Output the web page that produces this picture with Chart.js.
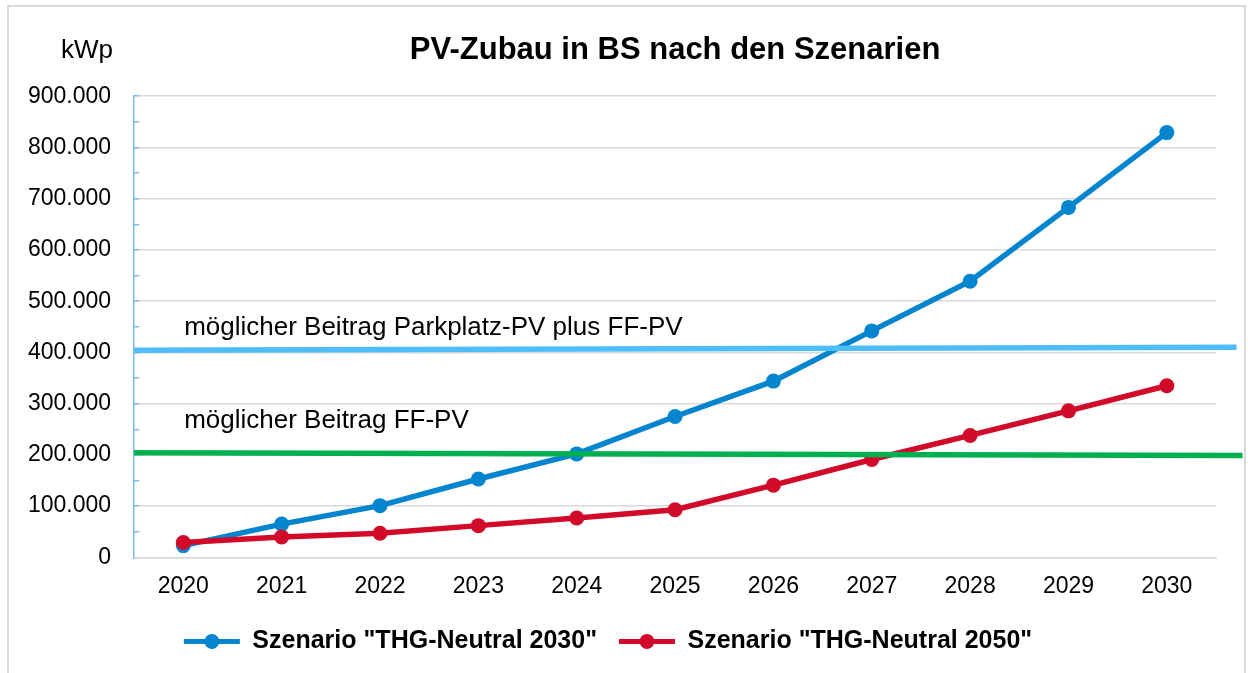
<!DOCTYPE html>
<html>
<head>
<meta charset="utf-8">
<script src="https://cdn.jsdelivr.net/npm/chart.js@4.4.0/dist/chart.umd.min.js"></script>
<style>
  html, body { margin: 0; padding: 0; background: #fff; }
  #wrap { position: relative; width: 1248px; height: 673px; overflow: hidden; }
  #frame { position: absolute; left: 7px; top: 5px; width: 1239px; height: 720px; border: 2px solid #d9d9d9; box-sizing: border-box; pointer-events: none; }
</style>
</head>
<body>
<div id="wrap">
  <canvas id="pvChart" width="1248" height="673"></canvas>
  <div id="frame"></div>
</div>
<script>
// Jahre (x-Achse)
const years = [2020, 2021, 2022, 2023, 2024, 2025, 2026, 2027, 2028, 2029, 2030];

// PV-Zubau in kWp je Szenario
const szenario2030 = [23000, 65000, 101000, 153000, 202000, 275000, 344000, 442000, 539000, 683000, 829000];
const szenario2050 = [29000, 40000, 47000, 62000, 77000, 93000, 141000, 191000, 238000, 286000, 335000];

// mögliche Beiträge (Start- und Endwert der waagrechten Linien)
const parkplatzPvX = [2019.5, 2030.71];
const parkplatzPvY = [404000, 410000];
const ffPvX = [2019.5, 2030.77];
const ffPvY = [204000, 199000];

// y-Achse
const yTicksMajor = [0, 100000, 200000, 300000, 400000, 500000, 600000, 700000, 800000, 900000];

const FONT = '"Liberation Sans", Arial, sans-serif';
Chart.defaults.font.family = FONT;
Chart.defaults.color = '#000';

function fmt(v) {
    return String(v).replace(/\B(?=(\d{3})+(?!\d))/g, '.');
}

const blue = '#0585CF';
const red = '#D20A2A';

// Texte und Legendenpunkte
const extraText = {
    id: 'extraText',
    afterDraw(chart) {
        const { ctx, chartArea } = chart;
        ctx.save();
        ctx.fillStyle = '#000';
        ctx.textBaseline = 'alphabetic';
        ctx.textAlign = 'right';
        ctx.font = '26px ' + FONT;
        ctx.fillText('kWp', 113, 58);

        ctx.textAlign = 'left';
        ctx.font = '26px ' + FONT;
        ctx.fillText('möglicher Beitrag Parkplatz-PV plus FF-PV', chartArea.left + 50, 335);
        ctx.fillText('möglicher Beitrag FF-PV', chartArea.left + 50, 428);

        const legend = chart.legend;
        const boxW = legend.options.labels.boxWidth;
        legend.legendItems.forEach((item, i) => {
            const box = legend.legendHitBoxes[i];
            ctx.fillStyle = chart.data.datasets[item.datasetIndex].borderColor;
            ctx.beginPath();
            ctx.arc(box.left + boxW / 2, box.top + box.height / 2, 7.5, 0, Math.PI * 2);
            ctx.fill();
        });
        ctx.restore();
    }
};

const ctx = document.getElementById('pvChart').getContext('2d');

new Chart(ctx, {
    type: 'line',
    data: {
        datasets: [
            {
                label: 'Szenario "THG-Neutral 2030"',
                data: years.map((y, i) => ({ x: y, y: szenario2030[i] })),
                borderColor: blue,
                backgroundColor: blue,
                pointBackgroundColor: blue,
                borderWidth: 5.5,
                pointRadius: 7.5,
                pointBorderWidth: 0,
                order: 4
            },
            {
                label: 'Szenario "THG-Neutral 2050"',
                data: years.map((y, i) => ({ x: y, y: szenario2050[i] })),
                borderColor: red,
                backgroundColor: red,
                pointBackgroundColor: red,
                borderWidth: 5.5,
                pointRadius: 7.5,
                pointBorderWidth: 0,
                order: 3
            },
            {
                label: 'möglicher Beitrag Parkplatz-PV plus FF-PV',
                data: parkplatzPvX.map((x, i) => ({ x: x, y: parkplatzPvY[i] })),
                borderColor: '#4FBEF8',
                borderWidth: 5.5,
                pointRadius: 0,
                clip: false,
                order: 1
            },
            {
                label: 'möglicher Beitrag FF-PV',
                data: ffPvX.map((x, i) => ({ x: x, y: ffPvY[i] })),
                borderColor: '#00B050',
                borderWidth: 5.5,
                pointRadius: 0,
                clip: false,
                order: 2
            }
        ]
    },
    options: {
        responsive: false,
        animation: false,
        layout: { padding: { left: 0, right: 32, top: 32, bottom: 9 } },
        plugins: {
            tooltip: { enabled: false },
            title: {
                display: true,
                text: 'PV-Zubau in BS nach den Szenarien',
                fullSize: false,
                color: '#000',
                font: { size: 31, weight: 'bold' },
                padding: { top: 0, bottom: 27 }
            },
            legend: {
                position: 'bottom',
                labels: {
                    boxWidth: 56,
                    boxHeight: 5,
                    padding: 22,
                    color: '#000',
                    font: { size: 25, weight: 'bold' },
                    generateLabels: chart => Chart.defaults.plugins.legend.labels.generateLabels(chart)
                        .map(item => Object.assign(item, { lineWidth: 0 })),
                    filter: item => item.datasetIndex < 2,
                    sort: (a, b) => a.datasetIndex - b.datasetIndex
                }
            }
        },
        scales: {
            x: {
                type: 'linear',
                min: 2019.5,
                max: 2030.5,
                afterBuildTicks: scale => { scale.ticks = years.map(v => ({ value: v })); },
                grid: { display: false },
                border: { color: '#d9d9d9', width: 1.5 },
                ticks: {
                    padding: 7,
                    font: { size: 23 },
                    color: '#000',
                    maxRotation: 0,
                    autoSkip: false,
                    callback: v => String(v)
                }
            },
            y: {
                min: 0,
                max: 900000,
                border: { color: '#7DBBF2', width: 1.5 },
                grid: {
                    color: c => (c.tick && yTicksMajor.includes(c.tick.value)) ? '#d9d9d9' : 'rgba(0,0,0,0)',
                    lineWidth: 1.5,
                    tickColor: '#7DBBF2',
                    tickWidth: 1.5,
                    tickLength: -5
                },
                ticks: {
                    stepSize: 50000,
                    padding: 28,
                    autoSkip: false,
                    font: { size: 23 },
                    color: '#000',
                    callback: v => yTicksMajor.includes(v) ? fmt(v) : ''
                }
            }
        }
    },
    plugins: [extraText]
});
</script>
</body>
</html>
